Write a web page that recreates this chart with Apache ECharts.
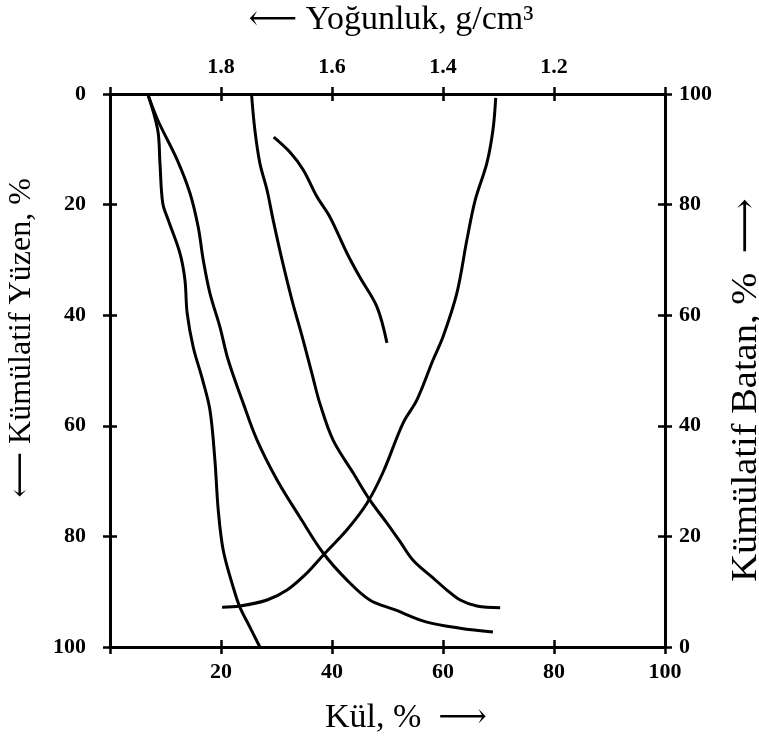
<!DOCTYPE html>
<html>
<head>
<meta charset="utf-8">
<script src="https://cdn.jsdelivr.net/npm/echarts@6/dist/echarts.min.js"></script>
<style>
  html, body { margin: 0; padding: 0; background: #fff; }
  #chart { width: 759px; height: 744px; }
</style>
</head>
<body>
<div id="chart"></div>
<script>
'use strict';

// tick values
const kulTicks = [0, 20, 40, 60, 80, 100];
const densityTicks = [1.2, 1.4, 1.6, 1.8];

// elementary ash curve: [Kül %, Kümülatif Yüzen %]
const elementaryAsh = [
    [6.8, 0], [8.6, 6.5], [9.0, 12.5], [9.5, 19.7], [10.5, 22.8], [12.6, 28.8],
    [13.5, 33.6], [13.9, 39.6], [15.0, 45.8], [16.6, 51.4], [18.0, 57.1],
    [18.9, 66.2], [19.5, 75.2], [20.4, 82.5], [22.2, 89.2], [23.4, 92.8],
    [25.2, 96.4], [27.0, 100]
];

// cumulative floats ash: [Kül %, Kümülatif Yüzen %]
const floatsAsh = [
    [6.8, 0], [8.6, 4.7], [12.1, 11.9], [14.4, 17.9], [15.9, 24.1], [16.8, 30.0],
    [18.0, 36.0], [19.8, 42.1], [21.3, 48.1], [24.0, 55.9],
    [26.5, 62.6], [30.1, 69.8], [34.2, 76.5], [38.4, 83.0], [42.7, 87.9],
    [46.8, 91.5], [51.4, 93.3], [57.1, 95.5], [63.1, 96.6], [69.0, 97.3]
];

// density curve: [Yoğunluk g/cm3, Kümülatif Yüzen %]
const densityCurve = [
    [1.745, 0], [1.739, 6.5], [1.730, 12.5], [1.717, 17.4], [1.706, 22.8],
    [1.690, 30.0], [1.672, 37.3], [1.652, 44.5], [1.634, 51.4], [1.622, 55.9],
    [1.598, 62.6], [1.562, 68.5], [1.532, 73.4], [1.501, 77.6], [1.477, 81.0],
    [1.454, 84.3], [1.418, 87.5], [1.393, 89.7], [1.369, 91.5], [1.339, 92.6],
    [1.297, 92.9]
];

// short curve: [Kül %, Kümülatif Batan %]
const shortCurve = [
    [29.5, 92.2], [32.4, 89.5], [34.8, 86.3], [37.3, 81.4], [39.6, 77.8],
    [42.7, 71.2], [45.0, 66.9], [48.1, 61.5], [49.9, 55.0]
];

// cumulative sinks ash: [Kül %, Kümülatif Batan %]
const sinksAsh = [
    [20.2, 7.2], [23.4, 7.4], [28.3, 8.5], [31.9, 10.3], [35.5, 13.4],
    [38.4, 16.6], [42.7, 21.2], [46.3, 26.0], [49.2, 31.6], [52.8, 40.5],
    [55.3, 44.7], [58.2, 51.9], [60.0, 56.1], [62.5, 64.0], [64.3, 73.6],
    [65.8, 80.8], [67.9, 87.5], [69.0, 93.5], [69.5, 99.3]
];

const serif = '"Liberation Serif", "DejaVu Serif", serif';
const black = '#000';

const labelStyle = {
    color: black,
    fontFamily: serif,
    fontWeight: 'bold',
    fontSize: 22,
};

const lineStyle = { color: black, width: 3 };

// ECharts ticks only go one way, so each axis gets a twin that draws the inner half.
// A twin asking for a used side gets flipped, but both sides share tick pixels here.
const tickOnly = (base, inside) => Object.assign({}, base, {
    axisLine: { show: !inside, onZero: false, lineStyle: { color: black, width: 3 } },
    axisTick: { show: true, inside: inside, length: 7, lineStyle: { color: black, width: 2.5 } },
    axisLabel: inside ? { show: false } : base.axisLabel,
    splitLine: { show: false },
});

const kulAxis = {
    type: 'value', position: 'bottom', min: 0, max: 100, interval: 20,
    axisLabel: Object.assign({}, labelStyle, {
        margin: 14,
        formatter: (v) => (kulTicks.indexOf(v) > 0 ? String(v) : ''),
    }),
};

const densityAxis = {
    type: 'value', position: 'top', min: 1.0, max: 2.0, interval: 0.2, inverse: true,
    axisLabel: Object.assign({}, labelStyle, {
        margin: 16,
        formatter: (v) => (densityTicks.some((d) => Math.abs(d - v) < 1e-6) ? v.toFixed(1) : ''),
    }),
};

const yuzenAxis = {
    type: 'value', position: 'left', min: 0, max: 100, interval: 20, inverse: true,
    axisLabel: Object.assign({}, labelStyle, { margin: 24 }),
};

const batanAxis = {
    type: 'value', position: 'right', min: 0, max: 100, interval: 20,
    axisLabel: Object.assign({}, labelStyle, { margin: 14 }),
};

const curve = (data, xi, yi) => ({
    type: 'line',
    data: data,
    xAxisIndex: xi,
    yAxisIndex: yi,
    smooth: 0.35,
    showSymbol: false,
    lineStyle: lineStyle,
    silent: true,
    z: 3,
});

const titleStyle = (text, size) => ({
    text: text,
    fill: black,
    font: size + 'px ' + serif,
    textAlign: 'center',
    textVerticalAlign: 'middle',
});

document.addEventListener('DOMContentLoaded', () => {
    const chart = echarts.init(document.getElementById('chart'), null, { renderer: 'canvas' });

    chart.setOption({
        animation: false,
        backgroundColor: '#fff',
        grid: { left: 110, right: 94, top: 94, bottom: 97 },
        xAxis: [
            tickOnly(kulAxis, false),
            tickOnly(densityAxis, false),
            tickOnly(kulAxis, true),
            tickOnly(densityAxis, true),
        ],
        yAxis: [
            tickOnly(yuzenAxis, false),
            tickOnly(batanAxis, false),
            tickOnly(yuzenAxis, true),
            tickOnly(batanAxis, true),
        ],
        series: [
            curve(elementaryAsh, 0, 0),
            curve(floatsAsh, 0, 0),
            curve(densityCurve, 1, 0),
            curve(shortCurve, 0, 1),
            curve(sinksAsh, 0, 1),
        ],
        graphic: [
            { type: 'text', x: 391, y: 20, style: titleStyle('\u27F5 Yoğunluk, g/cm\u00B3', 34) },
            { type: 'text', x: 406, y: 718, style: titleStyle('Kül, %  \u27F6', 34) },
            { type: 'text', x: 22, y: 338, rotation: Math.PI / 2, style: titleStyle('\u27F5 Kümülatif Yüzen, %', 32) },
            { type: 'text', x: 747, y: 390, rotation: Math.PI / 2, scaleX: 1.1, style: titleStyle('Kümülatif Batan, %  \u27F6', 35) },
        ],
    });
});
</script>
</body>
</html>
